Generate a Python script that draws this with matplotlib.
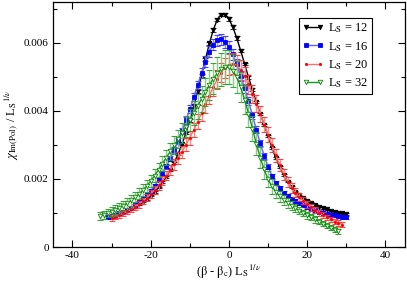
import numpy as np
import matplotlib
matplotlib.use("Agg")
import matplotlib.pyplot as plt
from matplotlib.ticker import MultipleLocator, FuncFormatter

plt.rcParams['font.family'] = ['Liberation Serif', 'DejaVu Serif']
plt.rcParams['mathtext.fontset'] = 'stix'
plt.rcParams['axes.unicode_minus'] = False

SCALE = 1e-3  # values below are in units of 1e-3

labels = ['L$_\\mathrm{S}$ = 12', 'L$_\\mathrm{S}$ = 16', 'L$_\\mathrm{S}$ = 20', 'L$_\\mathrm{S}$ = 32']

x12 = np.arange(-30, 31)
y12 = [0.88, 0.92, 0.96, 1.01, 1.06, 1.12, 1.18, 1.25, 1.33, 1.41,
       1.51, 1.62, 1.75, 1.90, 2.07, 2.26, 2.48, 2.73, 3.02, 3.35,
       3.72, 4.13, 4.58, 5.05, 5.52, 5.98, 6.38, 6.68, 6.83, 6.83,
       6.70, 6.46, 6.14, 5.77, 5.38, 4.99, 4.62, 4.26, 3.92, 3.59,
       3.27, 2.92, 2.61, 2.34, 2.11, 1.92, 1.76, 1.63, 1.52, 1.43,
       1.36, 1.30, 1.24, 1.19, 1.15, 1.11, 1.07, 1.04, 1.01, 0.99,
       0.97]
e12 = [0.02, 0.02, 0.02, 0.02, 0.02, 0.02, 0.02, 0.02, 0.02, 0.02,
       0.02, 0.02, 0.02, 0.03, 0.03, 0.03, 0.03, 0.03, 0.03, 0.03,
       0.04, 0.04, 0.04, 0.04, 0.04, 0.05, 0.05, 0.05, 0.05, 0.05,
       0.05, 0.05, 0.05, 0.04, 0.04, 0.04, 0.04, 0.04, 0.03, 0.03,
       0.03, 0.03, 0.03, 0.03, 0.03, 0.02, 0.02, 0.02, 0.02, 0.02,
       0.02, 0.02, 0.02, 0.02, 0.02, 0.02, 0.02, 0.02, 0.02, 0.02,
       0.02]

x16 = np.arange(-31, 31)
y16 = [0.87, 0.91, 0.95, 0.99, 1.04, 1.10, 1.16, 1.23, 1.31, 1.41,
       1.52, 1.65, 1.80, 1.97, 2.16, 2.37, 2.60, 2.85, 3.12, 3.41,
       3.72, 4.05, 4.40, 4.76, 5.12, 5.45, 5.74, 5.95, 6.07, 6.10,
       6.03, 5.88, 5.66, 5.37, 5.03, 4.66, 4.28, 3.87, 3.45, 3.05,
       2.68, 2.36, 2.09, 1.88, 1.72, 1.60, 1.50, 1.42, 1.35, 1.29,
       1.23, 1.17, 1.12, 1.08, 1.04, 1.01, 0.98, 0.95, 0.93, 0.91,
       0.89, 0.87]
e16 = [0.04, 0.04, 0.04, 0.04, 0.04, 0.04, 0.04, 0.04, 0.04, 0.04,
       0.05, 0.05, 0.05, 0.06, 0.06, 0.07, 0.07, 0.08, 0.08, 0.09,
       0.10, 0.11, 0.12, 0.13, 0.14, 0.15, 0.16, 0.17, 0.17, 0.17,
       0.17, 0.17, 0.16, 0.15, 0.14, 0.13, 0.12, 0.11, 0.10, 0.09,
       0.08, 0.08, 0.07, 0.07, 0.06, 0.06, 0.05, 0.05, 0.05, 0.05,
       0.04, 0.04, 0.04, 0.04, 0.04, 0.04, 0.04, 0.04, 0.04, 0.04,
       0.04, 0.04]

x20 = np.arange(-30, 30)
y20 = [0.85, 0.89, 0.94, 0.99, 1.05, 1.11, 1.18, 1.26, 1.35, 1.45,
       1.56, 1.68, 1.81, 1.95, 2.10, 2.26, 2.43, 2.61, 2.80, 3.00,
       3.21, 3.44, 3.68, 3.93, 4.19, 4.45, 4.70, 4.93, 5.12, 5.27,
       5.36, 5.39, 5.34, 5.21, 5.02, 4.78, 4.50, 4.21, 3.91, 3.60,
       3.30, 2.99, 2.69, 2.40, 2.14, 1.92, 1.74, 1.59, 1.47, 1.36,
       1.26, 1.17, 1.09, 1.01, 0.94, 0.87, 0.81, 0.75, 0.70, 0.66]
e20 = [0.08, 0.08, 0.08, 0.08, 0.09, 0.09, 0.09, 0.10, 0.10, 0.11,
       0.11, 0.12, 0.12, 0.13, 0.14, 0.15, 0.16, 0.17, 0.18, 0.19,
       0.20, 0.21, 0.22, 0.23, 0.24, 0.25, 0.26, 0.27, 0.28, 0.29,
       0.30, 0.30, 0.30, 0.29, 0.28, 0.27, 0.26, 0.25, 0.24, 0.23,
       0.22, 0.21, 0.19, 0.18, 0.16, 0.15, 0.14, 0.13, 0.12, 0.11,
       0.10, 0.10, 0.09, 0.09, 0.09, 0.08, 0.08, 0.08, 0.08, 0.08]

x32 = np.arange(-33, 29)
y32 = [0.90, 0.94, 0.99, 1.04, 1.10, 1.16, 1.22, 1.29, 1.37, 1.46,
       1.56, 1.67, 1.80, 1.94, 2.10, 2.27, 2.45, 2.63, 2.81, 2.99,
       3.17, 3.35, 3.54, 3.73, 3.93, 4.14, 4.35, 4.56, 4.76, 4.95,
       5.10, 5.22, 5.28, 5.28, 5.18, 5.00, 4.70, 4.33, 3.92, 3.48,
       3.04, 2.63, 2.28, 1.99, 1.78, 1.62, 1.49, 1.39, 1.30, 1.22,
       1.14, 1.07, 1.00, 0.93, 0.87, 0.81, 0.75, 0.69, 0.63, 0.57,
       0.51, 0.46]
e32 = [0.12, 0.12, 0.12, 0.13, 0.13, 0.13, 0.14, 0.14, 0.15, 0.15,
       0.16, 0.17, 0.18, 0.19, 0.20, 0.21, 0.22, 0.23, 0.24, 0.26,
       0.27, 0.29, 0.31, 0.33, 0.35, 0.37, 0.39, 0.41, 0.43, 0.45,
       0.47, 0.49, 0.50, 0.50, 0.49, 0.47, 0.45, 0.42, 0.39, 0.36,
       0.33, 0.30, 0.27, 0.24, 0.21, 0.19, 0.17, 0.15, 0.14, 0.13,
       0.12, 0.11, 0.10, 0.10, 0.09, 0.09, 0.08, 0.08, 0.07, 0.07,
       0.07, 0.07]

series = [
    dict(x=x12, y=y12, e=e12, color='black', line='black', ecolor='#606060',
         cap='#202020', marker='v', mfc='black', ms=3.2),
    dict(x=x16, y=y16, e=e16, color='#0000ff', line='#6060ff', ecolor='#8080ff',
         cap='#3030ff', marker='s', mfc='#0000ff', ms=2.2),
    dict(x=x20, y=y20, e=e20, color='#ff0000', line='#ff7070', ecolor='#ff8080',
         cap='#ff3030', marker='o', mfc='#ff0000', ms=1.6),
    dict(x=x32, y=y32, e=e32, color='#008a00', line='#189818', ecolor='#7cc47c',
         cap='#2a9a2a', marker='v', mfc='white', ms=3.2),
]

fig = plt.figure(figsize=(4.07, 2.82), dpi=100)
ax = fig.add_axes([0.130, 0.124, 0.865, 0.869])

handles = []
for i, s in enumerate(series):
    y = np.array(s['y']) * SCALE
    e = np.array(s['e']) * SCALE
    ax.errorbar(s['x'], y, yerr=e, fmt='none', ecolor=s['ecolor'], elinewidth=1.0,
                alpha=0.9, zorder=2 + i)
    ax.plot(s['x'], y + e, ls='none', marker='_', ms=3.8, mew=0.8,
            color=s['cap'], alpha=0.9, zorder=2.2 + i)
    ax.plot(s['x'], y - e, ls='none', marker='_', ms=3.8, mew=0.8,
            color=s['cap'], alpha=0.9, zorder=2.2 + i)
    h, = ax.plot(s['x'], y, color=s['line'], lw=1.0, marker=s['marker'],
                 ms=s['ms'], mfc=s['mfc'], mec=s['color'], mew=0.6,
                 zorder=2.5 + i, label=labels[i])
    handles.append(h)

ax.set_xlim(-45, 45)
ax.set_ylim(0, 0.0072)
ax.xaxis.set_major_locator(MultipleLocator(20))
ax.xaxis.set_minor_locator(MultipleLocator(10))
ax.yaxis.set_major_locator(MultipleLocator(0.002))
ax.yaxis.set_minor_locator(MultipleLocator(0.001))
ax.yaxis.set_major_formatter(FuncFormatter(lambda v, p: '0' if abs(v) < 1e-12 else f'{v:.3f}'))
ax.xaxis.set_major_formatter(FuncFormatter(lambda v, p: f'{v:.0f}'))
ax.tick_params(which='both', direction='in', top=True, right=True, labelsize=8, pad=3)
ax.tick_params(which='major', length=5, width=0.8)
ax.tick_params(which='minor', length=3, width=0.8)
for sp in ax.spines.values():
    sp.set_linewidth(0.9)

ax.set_xlabel(r'($\mathrm{\beta}$ - $\mathrm{\beta}_\mathrm{c}$) L$_\mathrm{S}$$^{1/\nu}$', fontsize=9, labelpad=2)
ax.set_ylabel(r'$\chi_{\mathrm{Im(Pol)}}$ / L$_\mathrm{S}$$^{1/\nu}$', fontsize=9, labelpad=3)

leg = ax.legend(handles=handles, loc='upper left', bbox_to_anchor=(0.699, 0.935),
                fontsize=9, frameon=True, fancybox=False, edgecolor='black',
                framealpha=1, numpoints=2, handlelength=1.7, handletextpad=0.3,
                borderpad=0.3, labelspacing=0.35, borderaxespad=0)
leg.get_frame().set_linewidth(0.8)

fig.savefig('out.png', dpi=100)
